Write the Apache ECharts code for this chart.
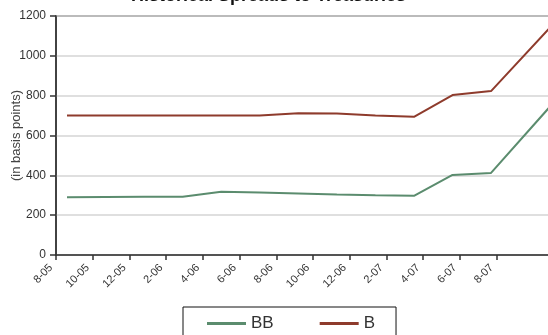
<!DOCTYPE html>
<html>
<head>
<meta charset="utf-8">
<script src="https://cdn.jsdelivr.net/npm/echarts@6/dist/echarts.min.js"></script>
<style>
  html, body { margin: 0; padding: 0; background: #fff; }
  #chart { width: 548px; height: 335px; }
</style>
</head>
<body>
<div id="chart"></div>
<script>
// Months elapsed since Aug 2005 for each observation
const obsMonths = [0.6, 2.7, 4.8, 6.9, 9.0, 11.1, 13.2, 15.3, 17.4, 19.5, 21.6, 23.7, 27.2];
// Spreads to Treasuries, in basis points
const bbSpread = [290, 291, 292, 293, 318, 314, 309, 304, 300, 297, 402, 412, 775];
const bSpread  = [700, 700, 700, 700, 700, 700, 712, 710, 700, 694, 803, 823, 1170];
// Axis ticks every two months, labelled month-year
const tickMonths = [0, 2, 4, 6, 8, 10, 12, 14, 16, 18, 20, 22, 24];
const tickLabels = ['8-05', '10-05', '12-05', '2-06', '4-06', '6-06', '8-06',
                    '10-06', '12-06', '2-07', '4-07', '6-07', '8-07'];

const font = 'Liberation Sans, Arial, sans-serif';
const pair = (xs, ys) => xs.map((x, i) => [x, ys[i]]);

const chart = echarts.init(document.getElementById('chart'), null, { renderer: 'canvas' });
chart.setOption({
  animation: false,
  backgroundColor: '#ffffff',
  title: {
    text: 'Historical Spreads to Treasuries',
    left: 126,
    top: -18,
    textStyle: { fontFamily: font, fontSize: 18, fontWeight: 'bold', color: '#111' }
  },
  grid: {
    left: 56, top: 16, right: -22, bottom: 80,
    outerBoundsMode: 'none',
    containLabel: false,
    show: true, borderColor: '#444', borderWidth: 1.5, backgroundColor: '#fff'
  },
  legend: {
    left: 183, top: 307,
    padding: [8, 21, 20, 24],
    itemGap: 46,
    itemWidth: 39, itemHeight: 3,
    icon: 'rect',
    borderColor: '#111', borderWidth: 1,
    textStyle: { fontFamily: font, fontSize: 17, color: '#333' },
    data: ['BB', 'B']
  },
  xAxis: {
    type: 'value',
    min: 0, max: 28,
    splitLine: { show: false },
    axisLine: { show: true, onZero: false, lineStyle: { color: '#333', width: 1.5 } },
    axisTick: { show: true, length: 5, customValues: tickMonths, lineStyle: { color: '#333', width: 1.5 } },
    axisLabel: {
      customValues: tickMonths,
      rotate: 45, margin: 6, padding: [0, 7, 0, 0],
      fontFamily: font, fontSize: 11, color: '#333',
      formatter: v => tickLabels[tickMonths.indexOf(Math.round(v))] || ''
    }
  },
  yAxis: {
    type: 'value',
    min: 0, max: 1200, interval: 200,
    name: '(in basis points)',
    nameLocation: 'middle',
    nameGap: 33,
    nameMoveOverlap: false,
    nameTextStyle: { fontFamily: font, fontSize: 13, color: '#444' },
    axisLine: { show: true, lineStyle: { color: '#333', width: 1.5 } },
    axisTick: { show: true, length: 6, lineStyle: { color: '#333', width: 1.5 } },
    axisLabel: { fontFamily: font, fontSize: 12, color: '#333', margin: 10, formatter: v => String(v) },
    splitLine: { show: true, lineStyle: { color: '#d4d4d4', width: 1.5 } }
  },
  series: [
    {
      name: 'BB', type: 'line', data: pair(obsMonths, bbSpread),
      showSymbol: false, symbol: 'none',
      lineStyle: { color: '#5b8c6e', width: 2 }, itemStyle: { color: '#5b8c6e' }
    },
    {
      name: 'B', type: 'line', data: pair(obsMonths, bSpread),
      showSymbol: false, symbol: 'none',
      lineStyle: { color: '#8e3b2c', width: 2 }, itemStyle: { color: '#8e3b2c' }
    }
  ]
});
</script>
</body>
</html>
